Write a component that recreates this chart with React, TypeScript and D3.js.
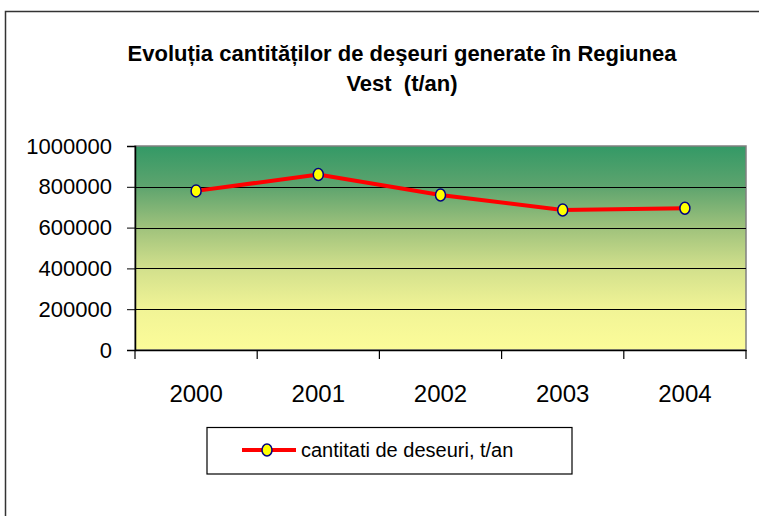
import React, { useEffect, useRef } from 'react';
import * as d3 from 'd3';

// ── Data ───────────────────────────────────────────────────────────────
const years = ['2000', '2001', '2002', '2003', '2004'];
const wasteTons = [780000, 860000, 760000, 686000, 695000];
const yTicks = [0, 200000, 400000, 600000, 800000, 1000000];
const seriesLabel = 'cantitati de deseuri, t/an';
const titleLines = ['Evoluția cantităților de deşeuri generate în Regiunea', 'Vest  (t/an)'];

const W = 759;
const H = 516;
const plot = { left: 135, right: 746, top: 146, bottom: 350 };
const FONT = '"Liberation Sans", Arial, sans-serif';

const App = () => {
  const svgRef = useRef<SVGSVGElement>(null);

  useEffect(() => {
    const svg = d3.select(svgRef.current);
    svg.selectAll('*').remove();

    const x = d3.scaleBand().domain(years).range([plot.left, plot.right]);
    const y = d3.scaleLinear().domain([0, 1000000]).range([plot.bottom, plot.top]);

    // ── Outer frame (only top and left edges fall inside the window) ────
    svg.append('path')
      .attr('d', `M5.5,${H}V11.5H${W}`)
      .attr('fill', 'none').attr('stroke', '#333').attr('stroke-width', 1.5);

    // ── Title ──────────────────────────────────────────────────────────
    svg.append('text')
      .attr('text-anchor', 'middle')
      .style('font', `bold 22px ${FONT}`)
      .style('white-space', 'pre')
      .selectAll('tspan')
      .data(titleLines)
      .join('tspan')
      .attr('x', 402)
      .attr('y', (_d, i) => 61 + i * 30)
      .text((d) => d);

    // ── Plot background gradient ───────────────────────────────────────
    const grad = svg.append('defs').append('linearGradient')
      .attr('id', 'bg').attr('x1', 0).attr('y1', 0).attr('x2', 0).attr('y2', 1);
    const stops: [number, string][] = [
      [0, '#339966'], [0.2, '#5ea46e'], [0.4, '#9fc27c'],
      [0.6, '#d2e08c'], [0.8, '#f1f496'], [1, '#fcfc99'],
    ];
    grad.selectAll('stop').data(stops).join('stop')
      .attr('offset', (d) => d[0]).attr('stop-color', (d) => d[1]);

    svg.append('rect')
      .attr('x', plot.left).attr('y', plot.top)
      .attr('width', plot.right - plot.left).attr('height', plot.bottom - plot.top)
      .attr('fill', 'url(#bg)')
      .attr('stroke', '#808080').attr('stroke-width', 1.5);

    // gridlines
    svg.append('g')
      .selectAll('line')
      .data(yTicks.slice(1, -1))
      .join('line')
      .attr('x1', plot.left).attr('x2', plot.right)
      .attr('y1', (d) => Math.round(y(d)) + 0.5).attr('y2', (d) => Math.round(y(d)) + 0.5)
      .attr('stroke', '#000').attr('stroke-width', 1);

    // ── Y axis ─────────────────────────────────────────────────────────
    const yAxis = svg.append('g')
      .attr('transform', `translate(${plot.left},0)`)
      .call(d3.axisLeft(y).tickValues(yTicks).tickSize(8).tickPadding(15).tickFormat(d3.format('d')));
    yAxis.select('.domain').attr('stroke', '#000').attr('stroke-width', 1.5);
    yAxis.selectAll('.tick line').attr('stroke', '#000');
    yAxis.selectAll('text')
      .style('font', `22px ${FONT}`)
      .attr('fill', '#000');

    // ── X axis ─────────────────────────────────────────────────────────
    const xAxis = svg.append('g')
      .attr('transform', `translate(0,${plot.bottom})`)
      .call(d3.axisBottom(x).tickSize(0).tickPadding(35));
    xAxis.select('.domain').attr('stroke', '#000').attr('stroke-width', 1.5);
    xAxis.selectAll('text')
      .style('font', `24px ${FONT}`)
      .attr('fill', '#000');

    // category boundary ticks
    const bounds = years.map((yr) => x(yr) as number).concat(plot.right);
    svg.append('g')
      .selectAll('line')
      .data(bounds)
      .join('line')
      .attr('x1', (d) => d).attr('x2', (d) => d)
      .attr('y1', plot.bottom).attr('y2', plot.bottom + 9)
      .attr('stroke', '#000').attr('stroke-width', 1.2);

    // ── Series ─────────────────────────────────────────────────────────
    const cx = (i: number) => (x(years[i]) as number) + x.bandwidth() / 2;
    const line = d3.line<number>()
      .x((_d, i) => cx(i))
      .y((d) => y(d));

    svg.append('path')
      .datum(wasteTons)
      .attr('d', line)
      .attr('fill', 'none')
      .attr('stroke', '#ff0000')
      .attr('stroke-width', 4);

    svg.append('g')
      .selectAll('ellipse')
      .data(wasteTons)
      .join('ellipse')
      .attr('cx', (_d, i) => cx(i))
      .attr('cy', (d) => y(d))
      .attr('rx', 5).attr('ry', 6)
      .attr('fill', '#ffff00')
      .attr('stroke', '#000080')
      .attr('stroke-width', 1.5);

    // ── Legend ─────────────────────────────────────────────────────────
    const lg = svg.append('g');
    lg.append('rect')
      .attr('x', 207).attr('y', 427.5)
      .attr('width', 365).attr('height', 46.5)
      .attr('fill', '#fff').attr('stroke', '#000').attr('stroke-width', 1.2);
    lg.append('line')
      .attr('x1', 242).attr('x2', 296).attr('y1', 450).attr('y2', 450)
      .attr('stroke', '#ff0000').attr('stroke-width', 4);
    lg.append('ellipse')
      .attr('cx', 267).attr('cy', 450).attr('rx', 5).attr('ry', 6)
      .attr('fill', '#ffff00').attr('stroke', '#000080').attr('stroke-width', 1.5);
    lg.append('text')
      .attr('x', 301).attr('y', 457)
      .style('font', `20px ${FONT}`)
      .attr('fill', '#000')
      .text(seriesLabel);
  }, []);

  return (
    <>
      <style>{'body{margin:0;overflow:hidden}'}</style>
      <svg ref={svgRef} width={W} height={H} style={{ display: 'block' }} />
    </>
  );
};

export default App;
